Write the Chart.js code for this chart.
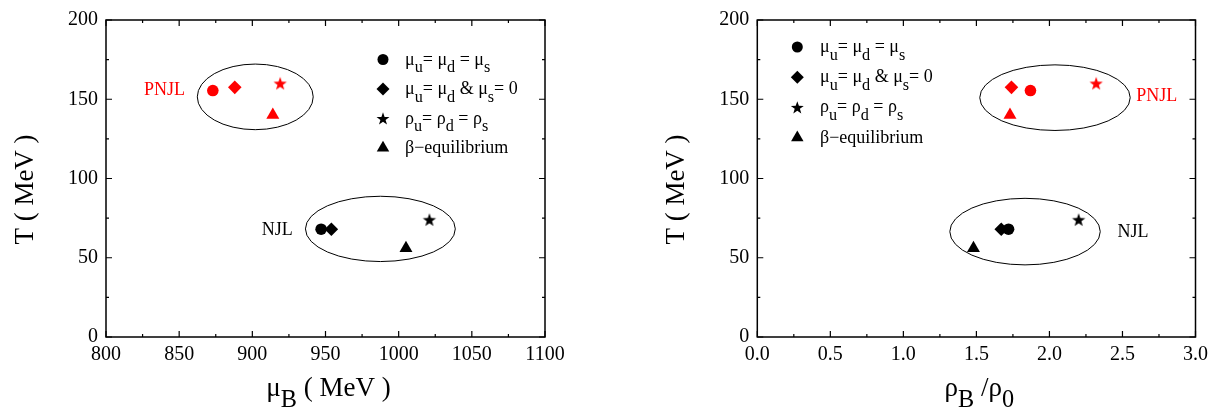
<!DOCTYPE html>
<html>
<head>
<meta charset="utf-8">
<script src="https://cdn.jsdelivr.net/npm/chart.js@4.4.1/dist/chart.umd.min.js"></script>
<style>
  body { margin: 0; background: #fff; }
  .panel { position: absolute; top: 0; height: 410px; }
  #left { left: 0; width: 600px; }
  #right { left: 660px; width: 554px; }
</style>
</head>
<body>
<div class="panel" id="left"><canvas id="chartMu"></canvas></div>
<div class="panel" id="right"><canvas id="chartRho"></canvas></div>
<script>
// order of the schemes: mu equal, mu_s = 0, rho equal, beta-equilibrium
const schemeLabels = ['μ_u= μ_d = μ_s', 'μ_u= μ_d & μ_s= 0', 'ρ_u= ρ_d = ρ_s', 'β−equilibrium'];

// critical end point temperatures (MeV)
const T_PNJL = [155.5, 157.5, 160, 140];
const T_NJL  = [68, 68, 74, 56];

// baryon chemical potential (MeV)
const muB_PNJL = [873, 888, 919, 914];
const muB_NJL  = [947, 954, 1021, 1005];

// baryon density rho_B / rho_0
const rho_PNJL = [1.87, 1.74, 2.32, 1.73];
const rho_NJL  = [1.72, 1.67, 2.20, 1.48];

const muTicks  = [800, 850, 900, 950, 1000, 1050, 1100];
const rhoTicks = [0, 0.5, 1, 1.5, 2, 2.5, 3];
const tTicks   = [0, 50, 100, 150, 200];

// rings round each model: centre x, centre y, half width, half height (data units)
const muRings  = [[902, 151.5, 39.6, 20.7], [987.5, 68.2, 51.2, 20.6]];
const rhoRings = [[2.038, 151, 0.515, 20.7], [1.833, 66.5, 0.515, 21]];

const modelNames = ['PNJL', 'NJL'];
const muNameAt   = [[840, 155.5], [917, 67.3]];
const rhoNameAt  = [[2.734, 152], [2.572, 66.2]];

const RED = '#ff0000';
const FONT = '"Liberation Serif", "Times New Roman", serif';

function starPath(g, x, y, r) {
    g.beginPath();
    for (let i = 0; i < 10; i++) {
        const rr = i % 2 ? r * 0.4 : r;
        const a = -Math.PI / 2 + i * Math.PI / 5;
        g.lineTo(x + rr * Math.cos(a), y + rr * Math.sin(a));
    }
    g.closePath();
}

function starImage(color, r) {
    const c = document.createElement('canvas');
    const s = Math.ceil(r * 2) + 2;
    c.width = s; c.height = s;
    const g = c.getContext('2d');
    g.fillStyle = color;
    starPath(g, s / 2, s / 2 + 0.6, r);
    g.fill();
    return c;
}

function markerStyles(color) {
    return ['circle', 'rectRot', starImage(color, 7), 'triangle'];
}
const markerRadius = [5.8, 6.8, 7, 7.5];

// legend marker, same shapes as the datasets use
function drawMarker(g, i, x, y, color) {
    g.fillStyle = color;
    g.beginPath();
    if (i === 0) {
        g.arc(x, y, 5.5, 0, Math.PI * 2);
    } else if (i === 1) {
        const r = 6.5;
        g.moveTo(x - r, y); g.lineTo(x, y - r); g.lineTo(x + r, y); g.lineTo(x, y + r);
        g.closePath();
    } else if (i === 2) {
        starPath(g, x, y + 0.6, 6.8);
    } else {
        const r = 7.2;
        for (let k = 0; k < 3; k++) {
            const a = k * 2 * Math.PI / 3;
            g.lineTo(x + Math.sin(a) * r, y - Math.cos(a) * r);
        }
        g.closePath();
    }
    g.fill();
}

// "_x" puts the single next character in subscript
function parseRich(str) {
    const segs = [];
    let buf = '';
    for (let i = 0; i < str.length; i++) {
        if (str[i] === '_') {
            if (buf) segs.push({t: buf, sub: false});
            buf = '';
            segs.push({t: str[i + 1], sub: true});
            i++;
        } else {
            buf += str[i];
        }
    }
    if (buf) segs.push({t: buf, sub: false});
    return segs;
}

function drawRich(g, str, x, y, size, align) {
    const segs = parseRich(str);
    const main = size + 'px ' + FONT;
    const small = (size * 0.9).toFixed(1) + 'px ' + FONT;
    let w = 0;
    segs.forEach(s => {
        g.font = s.sub ? small : main;
        s.w = g.measureText(s.t).width;
        w += s.w;
    });
    let cx = align === 'center' ? x - w / 2 : x;
    g.textAlign = 'left';
    g.textBaseline = 'alphabetic';
    segs.forEach(s => {
        g.font = s.sub ? small : main;
        g.fillText(s.t, cx, y + (s.sub ? size * 0.42 : 0));
        cx += s.w;
    });
}

function midpoints(arr) {
    const out = [];
    for (let i = 0; i < arr.length - 1; i++) out.push((arr[i] + arr[i + 1]) / 2);
    return out;
}

const framePlugin = {
    id: 'frame',
    afterDatasetsDraw(chart, args, o) {
        const g = chart.ctx;
        const {left, right, top, bottom} = chart.chartArea;
        const xs = chart.scales.x, ys = chart.scales.y;
        g.save();

        // rings
        g.strokeStyle = '#000';
        g.lineWidth = 1;
        o.rings.forEach(r => {
            const cx = xs.getPixelForValue(r[0]), cy = ys.getPixelForValue(r[1]);
            const rx = Math.abs(xs.getPixelForValue(r[0] + r[2]) - cx);
            const ry = Math.abs(ys.getPixelForValue(r[1] + r[3]) - cy);
            g.beginPath();
            g.ellipse(cx, cy, rx, ry, 0, 0, Math.PI * 2);
            g.stroke();
        });

        // model names
        g.font = '18px ' + FONT;
        g.textAlign = 'center';
        g.textBaseline = 'middle';
        o.names.forEach((p, i) => {
            g.fillStyle = i === 0 ? RED : '#000';
            g.fillText(modelNames[i], xs.getPixelForValue(p[0]), ys.getPixelForValue(p[1]));
        });

        // legend
        schemeLabels.forEach((lab, i) => {
            const y = o.legend.y + i * o.legend.dy;
            drawMarker(g, i, o.legend.x, y, '#000');
            g.fillStyle = '#000';
            drawRich(g, lab, o.legend.textX, y + 5, 18, 'left');
        });

        // inward ticks on all four sides
        g.strokeStyle = '#000';
        g.lineWidth = 1.2;
        g.beginPath();
        const tickX = (vals, len) => vals.forEach(v => {
            const p = xs.getPixelForValue(v);
            g.moveTo(p, bottom); g.lineTo(p, bottom - len);
            g.moveTo(p, top); g.lineTo(p, top + len);
        });
        const tickY = (vals, len) => vals.forEach(v => {
            const p = ys.getPixelForValue(v);
            g.moveTo(left, p); g.lineTo(left + len, p);
            g.moveTo(right, p); g.lineTo(right - len, p);
        });
        tickX(o.xTicks, 6); tickX(midpoints(o.xTicks), 3);
        tickY(tTicks, 6); tickY(midpoints(tTicks), 3);
        g.stroke();

        g.lineWidth = 1.5;
        g.strokeRect(left, top, right - left, bottom - top);

        // axis titles
        g.fillStyle = '#000';
        drawRich(g, o.xTitle, (left + right) / 2 + 3, 396, 27, 'center');
        g.translate(o.yTitleX, (top + bottom) / 2 + 11);
        g.rotate(-Math.PI / 2);
        g.font = '27px ' + FONT;
        g.textAlign = 'center';
        g.textBaseline = 'middle';
        g.fillText('T ( MeV )', 0, 0);
        g.restore();
    }
};

function makePanel(id, xVals, xTicks, xMin, xMax, fmt, rings, names, xTitle, yWidth, padRight, legend, yTitleX) {
    const pts = vals => vals.map((v, i) => ({x: v, y: 0}));
    const series = (xv, tv) => xv.map((v, i) => ({x: v, y: tv[i]}));
    return new Chart(document.getElementById(id), {
        type: 'scatter',
        data: {
            datasets: [
                {
                    label: 'PNJL',
                    data: series(xVals[0], T_PNJL),
                    pointStyle: markerStyles(RED),
                    pointRadius: markerRadius,
                    backgroundColor: RED,
                    borderColor: RED,
                    borderWidth: 0
                },
                {
                    label: 'NJL',
                    data: series(xVals[1], T_NJL),
                    pointStyle: markerStyles('#000'),
                    pointRadius: markerRadius,
                    backgroundColor: '#000',
                    borderColor: '#000',
                    borderWidth: 0
                }
            ]
        },
        options: {
            responsive: true,
            maintainAspectRatio: false,
            animation: false,
            layout: { padding: { top: 15, right: padRight, bottom: 0, left: 0 } },
            plugins: {
                legend: { display: false },
                tooltip: { enabled: false },
                frame: { rings: rings, names: names, xTicks: xTicks, xTitle: xTitle, legend: legend, yTitleX: yTitleX }
            },
            scales: {
                x: {
                    type: 'linear',
                    min: xMin,
                    max: xMax,
                    afterBuildTicks: s => { s.ticks = xTicks.map(v => ({value: v})); },
                    afterFit: s => { s.height = 73; },
                    grid: { display: false, drawTicks: false },
                    border: { display: false },
                    ticks: {
                        color: '#000',
                        padding: 6,
                        maxRotation: 0,
                        font: { family: FONT, size: 20 },
                        callback: fmt
                    }
                },
                y: {
                    type: 'linear',
                    min: 0,
                    max: 200,
                    afterBuildTicks: s => { s.ticks = tTicks.map(v => ({value: v})); },
                    afterFit: s => { s.width = yWidth; },
                    grid: { display: false, drawTicks: false },
                    border: { display: false },
                    ticks: {
                        color: '#000',
                        padding: 8,
                        font: { family: FONT, size: 20 }
                    }
                }
            }
        },
        plugins: [framePlugin]
    });
}

makePanel('chartMu', [muB_PNJL, muB_NJL], muTicks, 800, 1100, v => String(v),
    muRings, muNameAt, 'μ_B ( MeV )', 106, 55,
    { x: 383, textX: 405, y: 59.5, dy: 29.5 }, 26);

makePanel('chartRho', [rho_PNJL, rho_NJL], rhoTicks, 0, 3, v => Number(v).toFixed(1),
    rhoRings, rhoNameAt, 'ρ_B /ρ_0', 97.3, 18,
    { x: 137.3, textX: 160, y: 47, dy: 30.2 }, 17);
</script>
</body>
</html>
